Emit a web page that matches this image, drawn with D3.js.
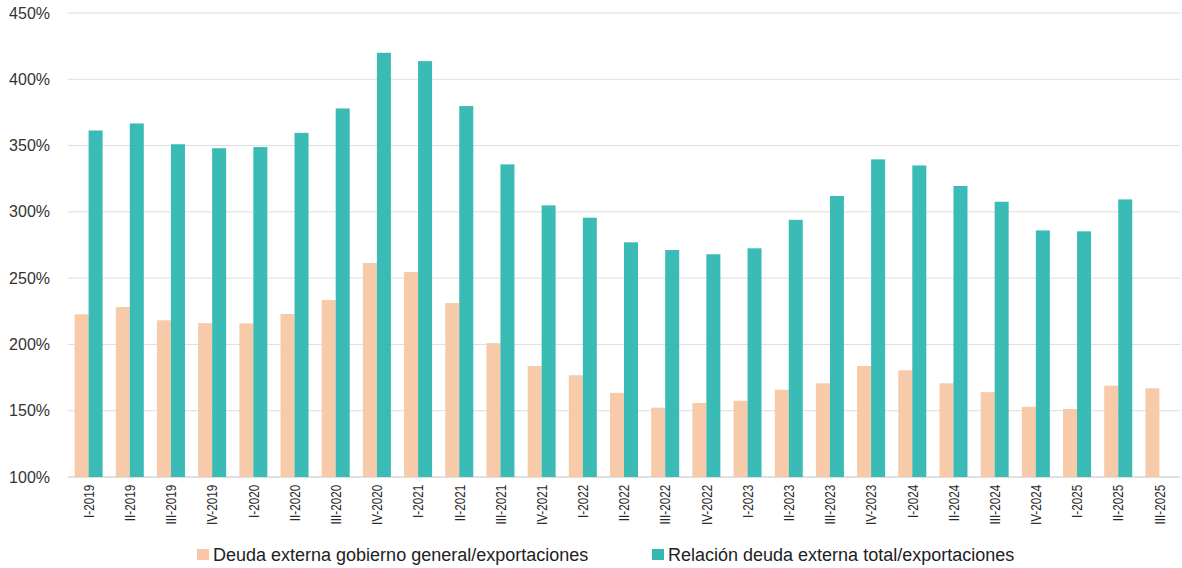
<!DOCTYPE html>
<html>
<head>
<meta charset="utf-8">
<script src="https://cdn.jsdelivr.net/npm/d3@7"></script>
<style>
  html, body { margin: 0; padding: 0; background: #fff; }
  svg { display: block; }
  .ytick text { font-family: "Liberation Sans", Arial, sans-serif; font-size: 16px; fill: #333; }
  .xtick text { font-family: "Liberation Sans", Arial, sans-serif; font-size: 15px; fill: #2a2a2a; }
  .legend text { font-family: "Liberation Sans", Arial, sans-serif; font-size: 18px; fill: #222; }
</style>
</head>
<body>
<svg id="chart" width="1182" height="568"></svg>
<script>
// Quarters
const categories = [
  "I-2019","II-2019","III-2019","IV-2019",
  "I-2020","II-2020","III-2020","IV-2020",
  "I-2021","II-2021","III-2021","IV-2021",
  "I-2022","II-2022","III-2022","IV-2022",
  "I-2023","II-2023","III-2023","IV-2023",
  "I-2024","II-2024","III-2024","IV-2024",
  "I-2025","II-2025","III-2025"
];

// General government external debt / exports (%)
const gobiernoGeneral = [
  222.7, 228.2, 218.2, 216.1,
  215.9, 223.0, 233.5, 261.4,
  254.6, 231.2, 201.0, 183.7,
  176.8, 163.5, 152.3, 155.8,
  157.5, 165.8, 170.7, 183.7,
  180.5, 170.7, 164.0, 153.0,
  151.3, 168.9, 166.9
];

// Total external debt / exports (%); III-2025 not yet available
const deudaTotal = [
  361.4, 366.7, 351.0, 348.0,
  348.9, 359.6, 378.0, 420.0,
  413.7, 379.8, 335.8, 304.9,
  295.6, 277.0, 271.2, 268.0,
  272.5, 294.0, 312.0, 339.6,
  335.0, 319.5, 307.6, 286.0,
  285.3, 309.4, null
];

const yTicks = [100, 150, 200, 250, 300, 350, 400, 450];
const seriesNames = [
  "Deuda externa gobierno general/exportaciones",
  "Relación deuda externa total/exportaciones"
];
const seriesColors = ["#F7C8A5", "#33B8B2"];

const svg = d3.select("#chart");
const margin = { left: 68, right: 2, top: 13, bottom: 91 };
const W = 1182, H = 568;
const innerW = W - margin.left - margin.right;
const innerH = H - margin.top - margin.bottom;

const x = d3.scaleBand().domain(categories).range([margin.left, margin.left + innerW]).paddingInner(0).paddingOuter(0);
const sub = d3.scaleBand().domain([0, 1]).range([0, x.bandwidth()]).paddingInner(0).paddingOuter(0.47);
const y = d3.scaleLinear().domain([100, 450]).range([margin.top + innerH, margin.top]);

// Grid lines
svg.append("g")
  .selectAll("line")
  .data(yTicks)
  .join("line")
  .attr("x1", margin.left)
  .attr("x2", margin.left + innerW)
  .attr("y1", d => y(d))
  .attr("y2", d => y(d))
  .attr("stroke", d => d === 100 ? "#d6d6d6" : "#dedede")
  .attr("stroke-width", d => d === 100 ? 1.5 : 1);

// Y axis labels
const yAxis = d3.axisLeft(y).tickValues(yTicks).tickFormat(d => d + "%").tickSize(0).tickPadding(18);
svg.append("g")
  .attr("class", "ytick")
  .attr("transform", `translate(${margin.left},0)`)
  .call(yAxis)
  .call(g => g.select(".domain").remove())
  .call(g => g.selectAll("text").attr("dy", "0.32em").attr("x", -18).style("text-anchor", "end"));

// Bars
const series = [gobiernoGeneral, deudaTotal];
series.forEach((vals, si) => {
  svg.append("g")
    .selectAll("rect")
    .data(categories.map((c, i) => ({ c, v: vals[i] })).filter(d => d.v != null))
    .join("rect")
    .attr("x", d => x(d.c) + sub(si))
    .attr("width", sub.bandwidth())
    .attr("y", d => y(d.v))
    .attr("height", d => y(100) - y(d.v))
    .attr("fill", seriesColors[si])
    .attr("fill-opacity", 0.96);
});

// X axis labels (rotated, condensed along the text direction)
const xAxis = d3.axisBottom(x).tickSize(0).tickPadding(0);
svg.append("g")
  .attr("class", "xtick")
  .attr("transform", `translate(0,${margin.top + innerH})`)
  .call(xAxis)
  .call(g => g.select(".domain").remove())
  .call(g => g.selectAll("text")
    .attr("transform", "rotate(-90) scale(0.78,1)")
    .attr("x", -10)
    .attr("y", 0)
    .attr("dy", "0.35em")
    .style("text-anchor", "end"));

// Legend
const legend = svg.append("g").attr("class", "legend");
const legendX = [197, 652];
seriesNames.forEach((name, i) => {
  const g = legend.append("g").attr("transform", `translate(${legendX[i]},549)`);
  g.append("rect").attr("width", 12).attr("height", 11).attr("fill", seriesColors[i]);
  g.append("text").attr("x", 16).attr("y", 6).attr("dy", "0.35em").text(name);
});
</script>
</body>
</html>
